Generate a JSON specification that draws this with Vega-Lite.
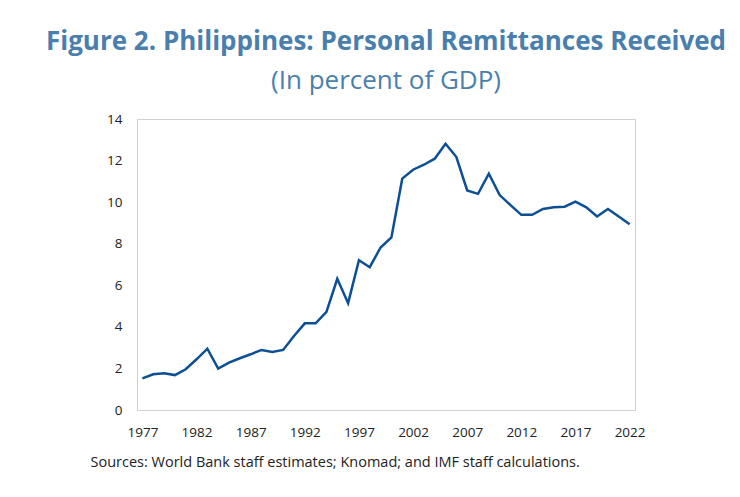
{
  "$schema": "https://vega.github.io/schema/vega-lite/v6.json",
  "autosize": "none",
  "width": 498,
  "height": 291,
  "padding": {"left": 137, "top": 119, "right": 105, "bottom": 87},
  "background": "white",
  "title": {
    "text": "Figure 2. Philippines: Personal Remittances Received",
    "subtitle": "(In percent of GDP)",
    "anchor": "middle",
    "font": "Open Sans",
    "fontSize": 26,
    "fontWeight": "bold",
    "color": "#4a7fad",
    "subtitleFont": "Open Sans",
    "subtitleFontSize": 26,
    "subtitleColor": "#4a7fad",
    "subtitlePadding": 13,
    "offset": 18
  },
  "config": {
    "view": {"stroke": "#d0d0d0", "strokeWidth": 1},
    "axis": {"labelFont": "Open Sans", "labelFontSize": 13.5, "labelColor": "#222222", "domain": false, "ticks": false, "grid": false}
  },
  "data": {
    "values": [
      {"year": 1977, "value": 1.52},
      {"year": 1978, "value": 1.72},
      {"year": 1979, "value": 1.77},
      {"year": 1980, "value": 1.68},
      {"year": 1981, "value": 1.96},
      {"year": 1982, "value": 2.44},
      {"year": 1983, "value": 2.95},
      {"year": 1984, "value": 1.99},
      {"year": 1985, "value": 2.28},
      {"year": 1986, "value": 2.49},
      {"year": 1987, "value": 2.68},
      {"year": 1988, "value": 2.89},
      {"year": 1989, "value": 2.79},
      {"year": 1990, "value": 2.89},
      {"year": 1991, "value": 3.56},
      {"year": 1992, "value": 4.17},
      {"year": 1993, "value": 4.17},
      {"year": 1994, "value": 4.72},
      {"year": 1995, "value": 6.31},
      {"year": 1996, "value": 5.14},
      {"year": 1997, "value": 7.21},
      {"year": 1998, "value": 6.87},
      {"year": 1999, "value": 7.82},
      {"year": 2000, "value": 8.30},
      {"year": 2001, "value": 11.13},
      {"year": 2002, "value": 11.56},
      {"year": 2003, "value": 11.80},
      {"year": 2004, "value": 12.09},
      {"year": 2005, "value": 12.81},
      {"year": 2006, "value": 12.17},
      {"year": 2007, "value": 10.56},
      {"year": 2008, "value": 10.40},
      {"year": 2009, "value": 11.37},
      {"year": 2010, "value": 10.34},
      {"year": 2011, "value": 9.86},
      {"year": 2012, "value": 9.39},
      {"year": 2013, "value": 9.39},
      {"year": 2014, "value": 9.67},
      {"year": 2015, "value": 9.75},
      {"year": 2016, "value": 9.78},
      {"year": 2017, "value": 10.02},
      {"year": 2018, "value": 9.75},
      {"year": 2019, "value": 9.31},
      {"year": 2020, "value": 9.67},
      {"year": 2021, "value": 9.31},
      {"year": 2022, "value": 8.94}
    ]
  },
  "mark": {"type": "line", "color": "#0d4f94", "strokeWidth": 2.5, "strokeJoin": "miter"},
  "encoding": {
    "x": {
      "field": "year",
      "type": "quantitative",
      "scale": {"domain": [1976.5, 2022.5], "nice": false, "zero": false},
      "axis": {
        "values": [1977, 1982, 1987, 1992, 1997, 2002, 2007, 2012, 2017, 2022],
        "format": "d",
        "labelPadding": 15,
        "labelFlush": false,
        "title": "Sources: World Bank staff estimates; Knomad; and IMF staff calculations.",
        "titleFont": "Open Sans",
        "titleFontSize": 14.5,
        "titleFontWeight": "normal",
        "titleColor": "#222222",
        "titleAnchor": "start",
        "titleAlign": "left",
        "titleX": -47,
        "titleY": 52,
        "titleBaseline": "middle"
      }
    },
    "y": {
      "field": "value",
      "type": "quantitative",
      "scale": {"domain": [0, 14], "nice": false},
      "axis": {
        "values": [0, 2, 4, 6, 8, 10, 12, 14],
        "labelPadding": 15,
        "title": null
      }
    }
  }
}
